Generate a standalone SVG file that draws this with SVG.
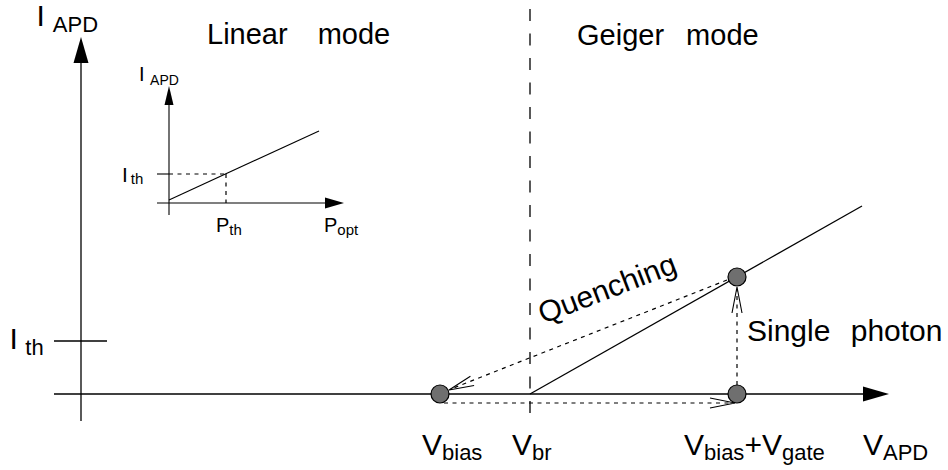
<svg xmlns="http://www.w3.org/2000/svg" width="948" height="470" viewBox="0 0 948 470">
<style>
text{font-family:"Liberation Sans",Arial,sans-serif;fill:#000}
.ax{stroke:#000;stroke-width:1.3;fill:none}
.thin{stroke:#000;stroke-width:1.1;fill:none}
.dot{stroke:#000;stroke-width:1.2;fill:none;stroke-dasharray:4 4.5}
.dash{stroke:#000;stroke-width:1.3;fill:none;stroke-dasharray:12 12.5}
.pt{fill:#6f6f6f;stroke:#000;stroke-width:1.2}
.head{fill:#000;stroke:none}
.big{font-size:30px}
.sub{font-size:22px}
</style>
<rect width="948" height="470" fill="#fff"/>
<g id="main-axes">
<line class="ax" x1="81" y1="421" x2="81" y2="62"/>
<polygon class="head" points="81,37 73.5,63 88.5,63"/>
<line class="ax" x1="54" y1="394" x2="864" y2="394"/>
<polygon class="head" points="889,394 863,386.5 863,401.5"/>
<line class="ax" x1="54" y1="341" x2="107" y2="341"/>
<line class="dash" x1="530" y1="9" x2="530" y2="424"/>
<line class="ax" x1="530" y1="394" x2="862" y2="206"/>
</g>
<g id="axis-labels">
<text class="big" x="36.5" y="26">I<tspan class="sub" dx="8" dy="6">APD</tspan></text>
<text class="big" x="9.5" y="349">I<tspan class="sub" dx="7.5" dy="6">th</tspan></text>
<text x="207" y="44" font-size="29" word-spacing="22">Linear mode</text>
<text x="577" y="45" font-size="29" word-spacing="14">Geiger mode</text>
</g>
<g id="inset">
<line class="thin" x1="169" y1="215" x2="169" y2="104"/>
<polygon class="head" points="169,86 164.5,105 173.5,105"/>
<line class="thin" x1="157" y1="203" x2="326" y2="203"/>
<polygon class="head" points="344,203 325,197.5 325,208.5"/>
<line class="thin" x1="169" y1="200" x2="319" y2="131"/>
<line class="thin" x1="157" y1="174" x2="169" y2="174"/>
<line class="dot" x1="169" y1="174" x2="226" y2="174" stroke-width="1.1"/>
<line class="dot" x1="226" y1="174" x2="226" y2="203" stroke-width="1.1"/>
<text x="139" y="81" font-size="20">I<tspan font-size="14" dx="5.5" dy="4">APD</tspan></text>
<text x="122" y="182" font-size="21">I<tspan font-size="15" dx="3" dy="2">th</tspan></text>
<text x="216" y="232" font-size="20">P<tspan font-size="15" dy="3">th</tspan></text>
<text x="324" y="232" font-size="20">P<tspan font-size="15" dy="3">opt</tspan></text>
</g>
<g id="connectors">
<line class="dot" x1="727" y1="280" x2="451" y2="389"/>
<polyline class="thin" points="474.1,385.5 449,390 470.4,376.2"/>
<line class="dot" x1="444" y1="403" x2="733" y2="403"/>
<polyline class="thin" points="710,398 735,403 710,408"/>
<line class="dot" x1="737" y1="385" x2="737" y2="290"/>
<polyline class="thin" points="732,313 737,287 742,313"/>
</g>
<g id="node-vbias"><circle class="pt" cx="440" cy="394" r="9"/></g>
<g id="node-vgate"><circle class="pt" cx="737" cy="394" r="9"/></g>
<g id="node-avalanche"><circle class="pt" cx="737" cy="277" r="9"/></g>
<g id="point-labels">
<text class="big" x="422" y="455">V<tspan class="sub" dy="5">bias</tspan></text>
<text class="big" x="512" y="455">V<tspan class="sub" dy="5">br</tspan></text>
<text class="big" x="684" y="455">V<tspan class="sub" dy="5">bias</tspan><tspan dy="-5">+V</tspan><tspan class="sub" dy="5">gate</tspan></text>
<text class="big" x="863" y="455">V<tspan class="sub" dy="5">APD</tspan></text>
<text class="big" x="747" y="341" word-spacing="12">Single photon</text>
<text class="big" transform="translate(543,324) rotate(-21)">Quenching</text>
</g>
</svg>
